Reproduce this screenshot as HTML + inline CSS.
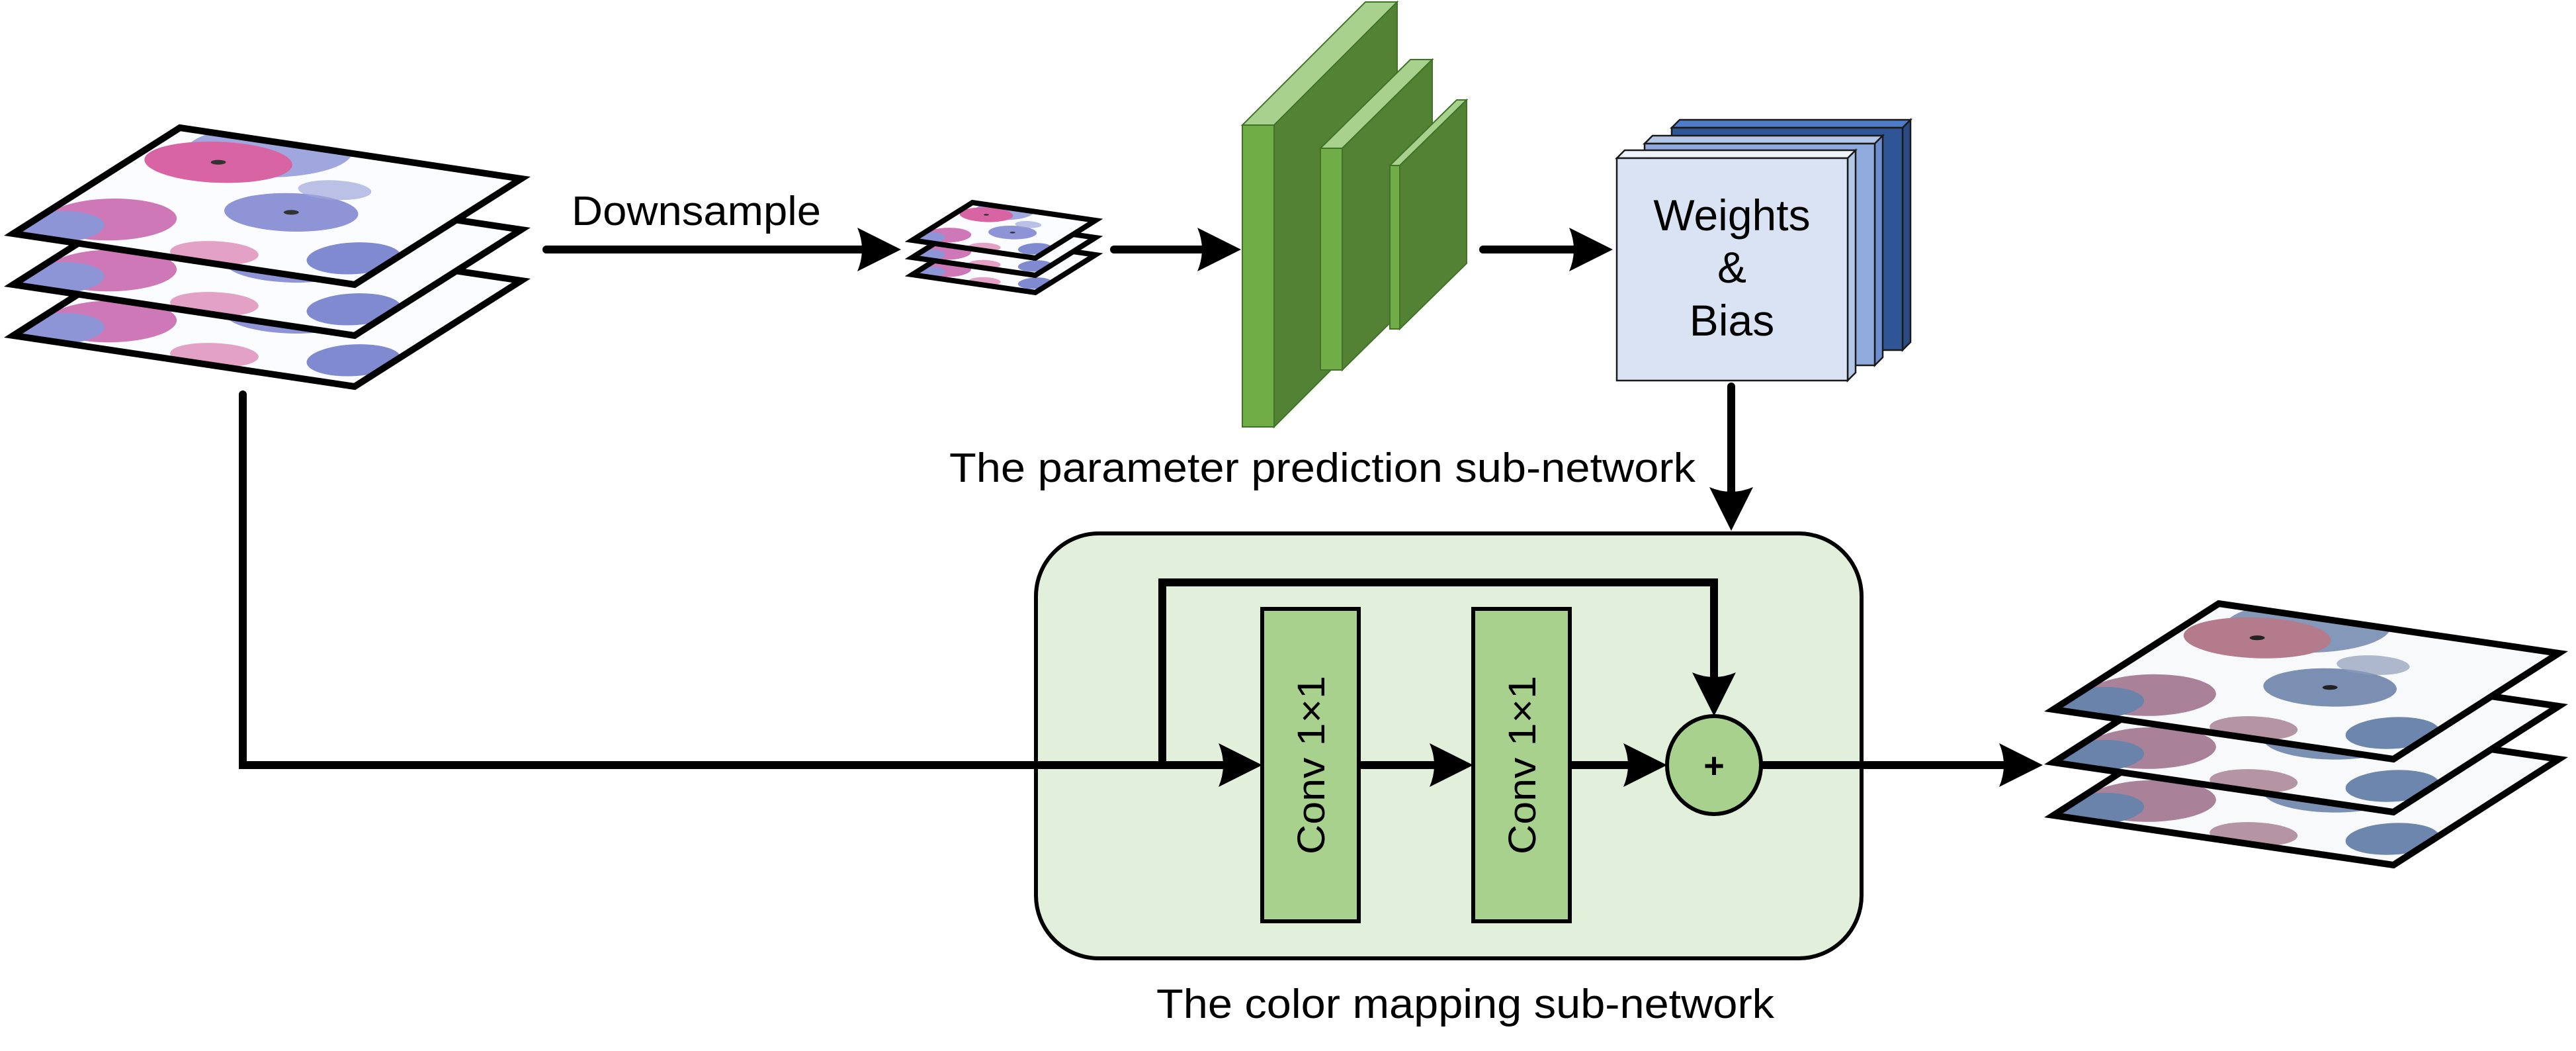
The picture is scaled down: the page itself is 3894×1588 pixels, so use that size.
<!DOCTYPE html>
<html><head><meta charset="utf-8"><style>
html,body{margin:0;padding:0;background:#fff;}
svg{display:block;}
text{font-family:"Liberation Sans",Arial,sans-serif;fill:#000;}
</style></head><body>
<svg width="3894" height="1588" viewBox="0 0 3894 1588" xmlns="http://www.w3.org/2000/svg">
<defs>
<clipPath id="unit"><rect x="0" y="0" width="100" height="100"/></clipPath>
<g id="imgA" clip-path="url(#unit)">
  <rect x="0" y="0" width="100" height="100" fill="#fbfcff"/>
  <ellipse cx="92" cy="30" rx="22" ry="22" fill="#8f97d8" opacity="0.85"/>
  <ellipse cx="78" cy="22" rx="17" ry="20" fill="#d864a4"/>
  <ellipse cx="48" cy="58" rx="16" ry="18" fill="#8e94d6"/>
  <circle cx="48" cy="58" r="2" fill="#333"/>
  <circle cx="78" cy="22" r="2" fill="#333"/>
  <ellipse cx="22" cy="18" rx="18" ry="17" fill="#cf78b8"/>
  <ellipse cx="10" cy="8" rx="14" ry="12" fill="#8d95d6"/>
  <ellipse cx="20" cy="90" rx="14" ry="12" fill="#7f8ad0"/>
  <ellipse cx="8" cy="55" rx="10" ry="12" fill="#de8ab8" opacity="0.8"/>
  <ellipse cx="70" cy="60" rx="8" ry="10" fill="#9fa6dc" opacity="0.7"/>
</g>
<g id="imgB" clip-path="url(#unit)">
  <rect x="0" y="0" width="100" height="100" fill="#f8f9fa"/>
  <ellipse cx="92" cy="30" rx="22" ry="22" fill="#7088ad" opacity="0.85"/>
  <ellipse cx="78" cy="22" rx="17" ry="20" fill="#b47b8d"/>
  <ellipse cx="48" cy="58" rx="16" ry="18" fill="#7a8fb2"/>
  <circle cx="48" cy="58" r="2" fill="#222"/>
  <circle cx="78" cy="22" r="2" fill="#222"/>
  <ellipse cx="22" cy="18" rx="18" ry="17" fill="#a98198"/>
  <ellipse cx="10" cy="8" rx="14" ry="12" fill="#6a83aa"/>
  <ellipse cx="20" cy="90" rx="14" ry="12" fill="#6d86ad"/>
  <ellipse cx="8" cy="55" rx="10" ry="12" fill="#a47c8e" opacity="0.8"/>
  <ellipse cx="70" cy="60" rx="8" ry="10" fill="#8d9cb8" opacity="0.7"/>
</g>
<g id="layerA"><use href="#imgA"/><rect x="0" y="0" width="100" height="100" fill="none" stroke="#000" stroke-width="10" vector-effect="non-scaling-stroke"/></g>
<g id="layerB"><use href="#imgB"/><rect x="0" y="0" width="100" height="100" fill="none" stroke="#000" stroke-width="10" vector-effect="non-scaling-stroke"/></g>
<g id="layerS"><use href="#imgA"/><rect x="0" y="0" width="100" height="100" fill="none" stroke="#000" stroke-width="8" vector-effect="non-scaling-stroke"/></g>
</defs>

<use href="#layerA" transform="matrix(2.52,-1.60,5.16,0.77,20,507)"/>
<use href="#layerA" transform="matrix(2.52,-1.60,5.16,0.77,20,430)"/>
<use href="#layerA" transform="matrix(2.52,-1.60,5.16,0.77,20,353)"/>

<use href="#layerS" transform="matrix(0.91,-0.57,1.86,0.27,1379,415)"/>
<use href="#layerS" transform="matrix(0.91,-0.57,1.86,0.27,1379,389)"/>
<use href="#layerS" transform="matrix(0.91,-0.57,1.86,0.27,1379,363)"/>

<use href="#layerB" transform="matrix(2.50,-1.60,5.14,0.75,3104,1232)"/>
<use href="#layerB" transform="matrix(2.50,-1.60,5.14,0.75,3104,1152)"/>
<use href="#layerB" transform="matrix(2.50,-1.60,5.14,0.75,3104,1072)"/>

<text x="864" y="340" font-size="62" textLength="377" lengthAdjust="spacingAndGlyphs">Downsample</text>
<g stroke="#000" stroke-width="12" stroke-linecap="round" fill="none">
  <line x1="826" y1="377" x2="1310" y2="377"/>
  <line x1="1684" y1="377" x2="1830" y2="377"/>
  <line x1="2242" y1="377" x2="2390" y2="377"/>
  <line x1="2617" y1="584" x2="2617" y2="750"/>
  <polyline points="367,596 367,1156 1860,1156"/>
</g>
<g fill="#000">
  <path d="M1362,377 L1296,344 Q1310,377 1296,410 Z"/>
  <path d="M1876,377 L1810,344 Q1824,377 1810,410 Z"/>
  <path d="M2438,377 L2372,344 Q2386,377 2372,410 Z"/>
  <path d="M2617,802 L2584,736 Q2617,750 2650,736 Z"/>
</g>

<g stroke="#3f7428" stroke-width="2">
  <polygon points="1878,189 2064,3 2112,3 1926,189" fill="#a9d18e"/>
  <polygon points="1926,189 2112,3 2112,459 1926,645" fill="#548235"/>
  <rect x="1878" y="189" width="48" height="456" fill="#70ad47"/>
  <polygon points="1996,224 2132,90 2165,90 2029,224" fill="#a9d18e"/>
  <polygon points="2029,224 2165,90 2165,425 2029,559" fill="#548235"/>
  <rect x="1996" y="224" width="33" height="335" fill="#70ad47"/>
  <polygon points="2101,250 2202,151 2217,151 2116,250" fill="#a9d18e"/>
  <polygon points="2116,250 2217,151 2217,398 2116,497" fill="#548235"/>
  <rect x="2101" y="250" width="15" height="247" fill="#70ad47"/>
</g>

<g stroke="#1a1a1a" stroke-width="2.5">
  <polygon points="2527,193 2539,181 2888,181 2876,193" fill="#4f7bc8"/>
  <polygon points="2876,193 2888,181 2888,517 2876,529" fill="#2a4a84"/>
  <rect x="2527" y="193" width="349" height="336" fill="#2f5597"/>
  <polygon points="2486,217 2498,205 2846,205 2834,217" fill="#b4c7e7"/>
  <polygon points="2834,217 2846,205 2846,540 2834,552" fill="#6d8fd0"/>
  <rect x="2486" y="217" width="348" height="335" fill="#8faadc"/>
  <polygon points="2444,239 2456,227 2805,227 2793,239" fill="#eef2fa"/>
  <polygon points="2793,239 2805,227 2805,563 2793,575" fill="#b4c7e7"/>
  <rect x="2444" y="239" width="349" height="336" fill="#dae3f3"/>
</g>
<text x="2618" y="348" font-size="66" text-anchor="middle">Weights</text>
<text x="2618" y="427" font-size="66" text-anchor="middle">&amp;</text>
<text x="2618" y="507" font-size="66" text-anchor="middle">Bias</text>

<text x="1435" y="728" font-size="62" textLength="1128" lengthAdjust="spacingAndGlyphs">The parameter prediction sub-network</text>

<rect x="1566" y="806" width="1248" height="642" rx="95" ry="95" fill="#e2efda" stroke="#000" stroke-width="6"/>
<g stroke="#000" stroke-width="12" fill="none" stroke-linecap="round">
  <polyline points="367,1156 1860,1156"/>
  <polyline points="1757,1156 1757,880 2591,880 2591,1040"/>
  <line x1="2054" y1="1156" x2="2180" y2="1156"/>
  <line x1="2373" y1="1156" x2="2470" y2="1156"/>
  <line x1="2664" y1="1156" x2="3040" y2="1156"/>
</g>
<rect x="1908" y="920" width="146" height="472" fill="#a9d18e" stroke="#000" stroke-width="6"/>
<rect x="2227" y="920" width="146" height="472" fill="#a9d18e" stroke="#000" stroke-width="6"/>
<ellipse cx="2591" cy="1156" rx="71" ry="74" fill="#a9d18e" stroke="#000" stroke-width="6"/>
<g fill="#000">
  <path d="M1908,1156 L1842,1123 Q1856,1156 1842,1189 Z"/>
  <path d="M2227,1156 L2161,1123 Q2175,1156 2161,1189 Z"/>
  <path d="M2520,1156 L2454,1123 Q2468,1156 2454,1189 Z"/>
  <path d="M2591,1082 L2558,1016 Q2591,1030 2624,1016 Z"/>
  <path d="M3088,1156 L3022,1123 Q3036,1156 3022,1189 Z"/>
</g>
<text x="2591" y="1175" font-size="54" font-weight="bold" text-anchor="middle">+</text>
<text transform="translate(2002,1156) rotate(-90)" font-size="58" text-anchor="middle" textLength="270" lengthAdjust="spacingAndGlyphs">Conv 1×1</text>
<text transform="translate(2321,1156) rotate(-90)" font-size="58" text-anchor="middle" textLength="270" lengthAdjust="spacingAndGlyphs">Conv 1×1</text>

<text x="1748" y="1538" font-size="62" textLength="934" lengthAdjust="spacingAndGlyphs">The color mapping sub-network</text>
</svg>
</body></html>
